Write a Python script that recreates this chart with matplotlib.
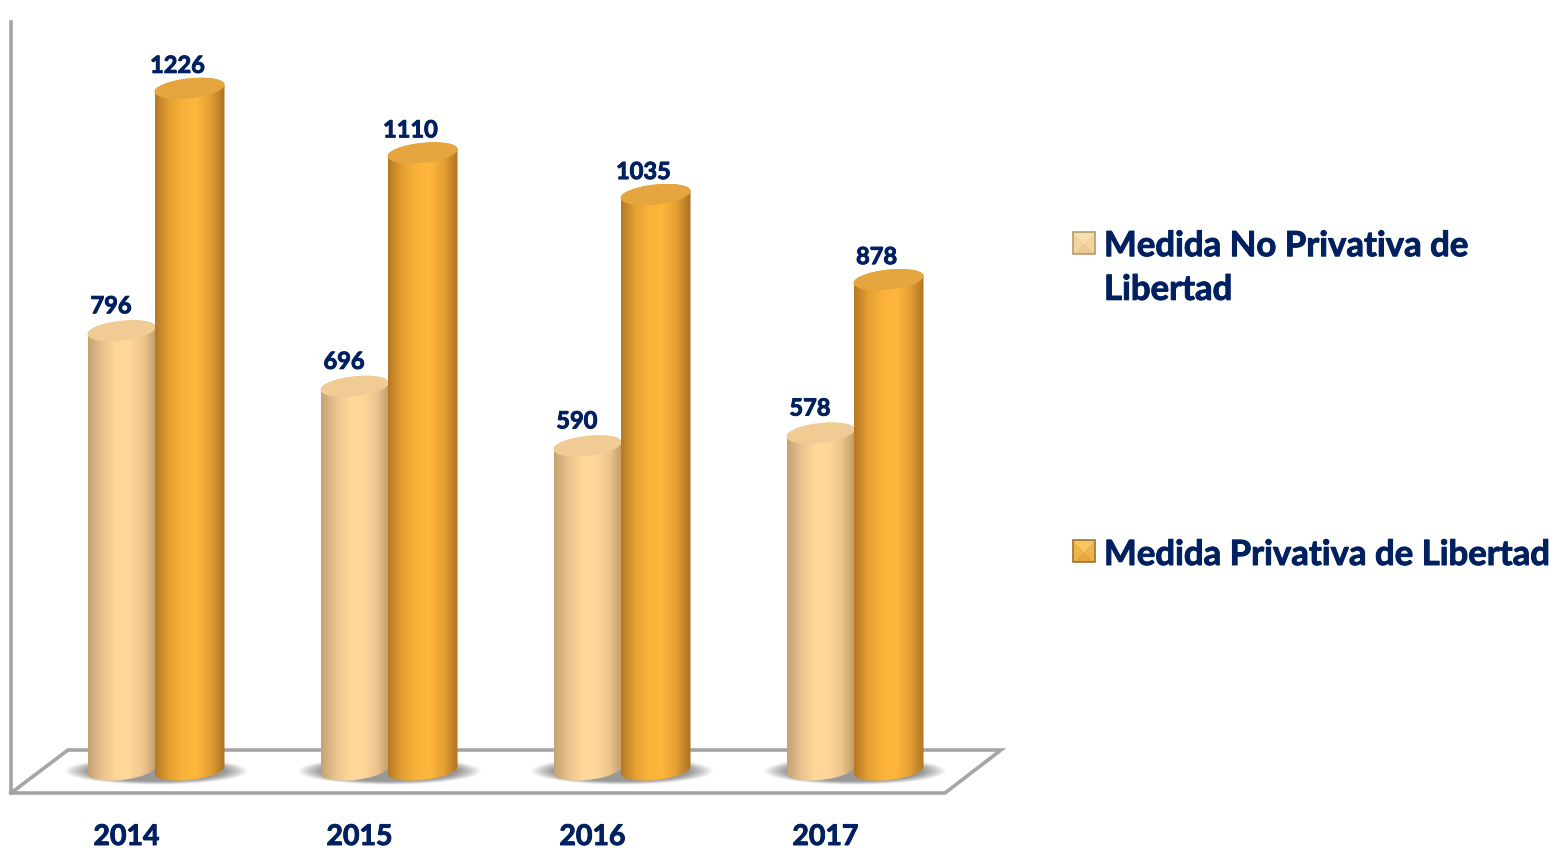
import numpy as np
from matplotlib import pyplot as plt
from matplotlib import patheffects as pe
from matplotlib.patches import Polygon

plt.rcParams['font.family'] = ['Lato', 'DejaVu Sans']

years = ['2014', '2015', '2016', '2017']
no_privativa = [796, 696, 590, 578]
privativa = [1226, 1110, 1035, 878]
# the 2017 light bar is drawn taller than its label says, so keep drawn heights apart
no_privativa_drawn = [790, 690, 583, 606]
privativa_drawn = [1226, 1110, 1035, 882]
legend_names = ['Medida No Privativa de\nLibertad', 'Medida Privativa de Libertad']

NAVY = '#002060'
GREY = '#a6a4a4'
PX_X = 233.0    # pixels per category
PX_Y = 0.556    # pixels per unit

light_stops = [(196, 162, 115), (232, 194, 142), (253, 214, 152), (254, 216, 155), (238, 198, 142), (190, 155, 108)]
orange_stops = [(182, 120, 36), (228, 160, 50), (250, 178, 58), (254, 182, 60), (226, 158, 50), (170, 112, 36)]

heavy = [pe.withStroke(linewidth=0.7, foreground=NAVY)]


def xp(px):
    return (px - 155.5) / PX_X


def yp(py):
    return (770 - py) / PX_Y


def gradient(stops):
    pos = np.linspace(0, 1, len(stops))
    s = np.array(stops) / 255.0
    t = np.linspace(0, 1, 200)
    return np.dstack([np.interp(t, pos, s[:, i]) for i in range(3)]).reshape(1, 200, 3)


def cylinder(x, h, half, stops, cap, z):
    a = half / PX_X
    b = 10 / PX_Y
    k = 3.5 / PX_Y
    t1 = np.linspace(np.pi, 2 * np.pi, 60)
    t2 = np.linspace(0, np.pi, 60)
    bx = x + a * np.cos(t1)
    by = b * np.sin(t1) + k * np.cos(t1)
    tx = x + a * np.cos(t2)
    ty = h + b * np.sin(t2) + k * np.cos(t2)
    body = Polygon(np.column_stack([np.r_[bx, tx], np.r_[by, ty]]), closed=True, fc='none', ec='none')
    ax.add_patch(body)
    im = ax.imshow(gradient(stops), extent=(x - a, x + a, -2 * b, h + 2 * b), aspect='auto', zorder=z)
    im.set_clip_path(body)
    t = np.linspace(0, 2 * np.pi, 120)
    ax.fill(x + a * np.cos(t), h + b * np.sin(t) + k * np.cos(t), fc=cap, ec='none', zorder=z + 0.1)


def shadow(x, y):
    u = np.linspace(-1, 1, 180)
    v = np.linspace(-1, 1, 60)
    uu, vv = np.meshgrid(u, v)
    alpha = np.clip(2.2 * (1 - (uu ** 2 + vv ** 2)), 0, 1) * 0.8
    img = np.zeros((60, 180, 4))
    img[..., :3] = 0.5
    img[..., 3] = alpha
    ax.imshow(img, extent=(x - 92 / PX_X, x + 92 / PX_X, y - 14 / PX_Y, y + 14 / PX_Y), aspect='auto', zorder=1)


def swatch(x0, y0, size, light, mid, dark, side):
    c = (xp(x0 + size / 2), yp(y0 + size / 2))
    p = [(xp(x0), yp(y0)), (xp(x0 + size), yp(y0)), (xp(x0 + size), yp(y0 + size)), (xp(x0), yp(y0 + size))]
    ax.add_patch(Polygon([p[0], p[1], c], fc=light, ec='none', zorder=4))
    ax.add_patch(Polygon([p[1], p[2], c], fc=side, ec='none', zorder=4))
    ax.add_patch(Polygon([p[2], p[3], c], fc=mid, ec='none', zorder=4))
    ax.add_patch(Polygon([p[3], p[0], c], fc=side, ec='none', zorder=4))
    ax.add_patch(Polygon(p, fc='none', ec=dark, lw=1.2, zorder=4.1))


fig = plt.figure(figsize=(15.64, 8.5), dpi=100)
ax = fig.add_axes([0, 0, 1, 1])

# floor and back wall
ax.plot([xp(11), xp(11), xp(945), xp(1001), xp(68), xp(11)],
        [yp(22), yp(793), yp(793), yp(750), yp(750), yp(793)],
        color=GREY, lw=2.6, solid_joinstyle='miter', zorder=0.5)

for i in range(len(years)):
    shadow(i, yp(771))
    cylinder(i - 34 / PX_X, no_privativa_drawn[i], 34, light_stops, '#f0cc94', 2)
    cylinder(i + 34 / PX_X, privativa_drawn[i], 35, orange_stops, '#e5a63f', 3)

    ax.text(i - 44.5 / PX_X, no_privativa_drawn[i] + 25 / PX_Y, str(no_privativa[i]), ha='center', va='center',
            color=NAVY, fontsize=17, fontweight='bold', zorder=5, path_effects=heavy)
    ax.text(i + 22 / PX_X, privativa_drawn[i] + 23 / PX_Y, str(privativa[i]), ha='center', va='center',
            color=NAVY, fontsize=17, fontweight='bold', zorder=5, path_effects=heavy)
    ax.text(i - 29 / PX_X, yp(837), years[i], ha='center', va='center',
            color=NAVY, fontsize=20.5, fontweight='bold', zorder=5, path_effects=heavy)

swatch(1073, 232, 22, '#f6dfae', '#eec98f', '#b59a70', '#f2d49e')
swatch(1073, 540, 22, '#f7c65c', '#e9a53a', '#9a7430', '#f0b348')
ax.text(xp(1104), yp(268), legend_names[0], ha='left', va='center', color=NAVY, fontsize=25,
        fontweight='bold', linespacing=1.45, path_effects=heavy)
ax.text(xp(1104), yp(555), legend_names[1], ha='left', va='center', color=NAVY, fontsize=25,
        fontweight='bold', path_effects=heavy)

ax.set_xlim(xp(0), xp(1564))
ax.set_ylim(yp(850), yp(0))
ax.axis('off')

fig.savefig('out.png', dpi=100)
